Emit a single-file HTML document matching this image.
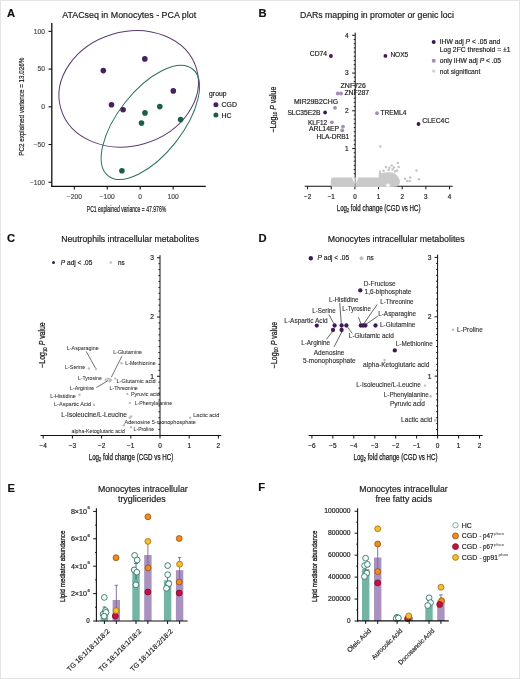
<!DOCTYPE html>
<html><head><meta charset="utf-8"><title>Figure</title>
<style>
html,body{margin:0;padding:0;background:#fff;}
body{width:520px;height:679px;overflow:hidden;}
svg{display:block;font-family:"Liberation Sans",sans-serif;will-change:transform;}
</style></head><body>
<svg width="520" height="679" viewBox="0 0 520 679" fill="#222">
<rect x="0" y="0" width="520" height="679" fill="#fff"/>
<text x="6.9" y="17.4" font-size="11.2" fill="#111" font-weight="bold" stroke="#111" stroke-width="0.18">A</text>
<text x="62.2" y="17.7" font-size="8.9" fill="#1a1a1a" textLength="134" lengthAdjust="spacingAndGlyphs" stroke="#1a1a1a" stroke-width="0.18">ATACseq in Monocytes - PCA plot</text>
<ellipse cx="128.7" cy="88.8" rx="70.7" ry="57.0" transform="rotate(-16.5 128.7 88.8)" fill="none" stroke="#5b3a70" stroke-width="1.0"/>
<ellipse cx="150.35" cy="122.4" rx="68.06" ry="32.15" transform="rotate(-51.7 150.35 122.4)" fill="none" stroke="#2d6f61" stroke-width="1.0"/>
<circle cx="103.3" cy="70.6" r="2.8" fill="#46215e"/>
<circle cx="144.8" cy="58.9" r="2.8" fill="#46215e"/>
<circle cx="111.5" cy="104.8" r="2.8" fill="#46215e"/>
<circle cx="123.1" cy="109.7" r="2.8" fill="#46215e"/>
<circle cx="173.3" cy="90.9" r="2.8" fill="#46215e"/>
<circle cx="159.8" cy="106.6" r="2.8" fill="#1b5e4a"/>
<circle cx="145" cy="112.9" r="2.8" fill="#1b5e4a"/>
<circle cx="141.5" cy="123.1" r="2.8" fill="#1b5e4a"/>
<circle cx="180.6" cy="119.6" r="2.8" fill="#1b5e4a"/>
<circle cx="121.9" cy="170.8" r="2.8" fill="#1b5e4a"/>
<line x1="51.8" y1="22.9" x2="51.8" y2="186.9" stroke="#111" stroke-width="1.3"/>
<line x1="51.2" y1="186.3" x2="205.7" y2="186.3" stroke="#111" stroke-width="1.3"/>
<line x1="48.5" y1="31.35" x2="51.9" y2="31.35" stroke="#111" stroke-width="1.1"/>
<text x="45" y="33.65" font-size="6.7" fill="#4d4d4d" text-anchor="end" stroke="#4d4d4d" stroke-width="0.18">100</text>
<line x1="48.5" y1="69.08" x2="51.9" y2="69.08" stroke="#111" stroke-width="1.1"/>
<text x="45" y="71.38" font-size="6.7" fill="#4d4d4d" text-anchor="end" stroke="#4d4d4d" stroke-width="0.18">50</text>
<line x1="48.5" y1="106.8" x2="51.9" y2="106.8" stroke="#111" stroke-width="1.1"/>
<text x="45" y="109.1" font-size="6.7" fill="#4d4d4d" text-anchor="end" stroke="#4d4d4d" stroke-width="0.18">0</text>
<line x1="48.5" y1="144.52" x2="51.9" y2="144.52" stroke="#111" stroke-width="1.1"/>
<text x="45" y="146.82" font-size="6.7" fill="#4d4d4d" text-anchor="end" stroke="#4d4d4d" stroke-width="0.18">−50</text>
<line x1="48.5" y1="182.25" x2="51.9" y2="182.25" stroke="#111" stroke-width="1.1"/>
<text x="45" y="184.55" font-size="6.7" fill="#4d4d4d" text-anchor="end" stroke="#4d4d4d" stroke-width="0.18">−100</text>
<line x1="74.34" y1="186.3" x2="74.34" y2="189.6" stroke="#111" stroke-width="1.1"/>
<text x="74.34" y="199.2" font-size="6.7" fill="#4d4d4d" text-anchor="middle" stroke="#4d4d4d" stroke-width="0.18">−200</text>
<line x1="107.27" y1="186.3" x2="107.27" y2="189.6" stroke="#111" stroke-width="1.1"/>
<text x="107.27" y="199.2" font-size="6.7" fill="#4d4d4d" text-anchor="middle" stroke="#4d4d4d" stroke-width="0.18">−100</text>
<line x1="140.2" y1="186.3" x2="140.2" y2="189.6" stroke="#111" stroke-width="1.1"/>
<text x="140.2" y="199.2" font-size="6.7" fill="#4d4d4d" text-anchor="middle" stroke="#4d4d4d" stroke-width="0.18">0</text>
<line x1="173.13" y1="186.3" x2="173.13" y2="189.6" stroke="#111" stroke-width="1.1"/>
<text x="173.13" y="199.2" font-size="6.7" fill="#4d4d4d" text-anchor="middle" stroke="#4d4d4d" stroke-width="0.18">100</text>
<text x="126.5" y="212.1" font-size="8.3" fill="#1a1a1a" text-anchor="middle" textLength="79.5" lengthAdjust="spacingAndGlyphs" stroke="#1a1a1a" stroke-width="0.2">PC1 explained variance = 47.976%</text>
<text x="24" y="106.7" font-size="7.5" fill="#1a1a1a" text-anchor="middle" textLength="98" lengthAdjust="spacingAndGlyphs" transform="rotate(-90 24 106.7)" stroke="#1a1a1a" stroke-width="0.2">PC2 explained variance = 13.026%</text>
<text x="209.1" y="96" font-size="6.8" fill="#1a1a1a" stroke="#1a1a1a" stroke-width="0.18">group</text>
<circle cx="215.9" cy="104.8" r="2.5" fill="#46215e"/>
<text x="221.6" y="106.9" font-size="6.9" fill="#1a1a1a" stroke="#1a1a1a" stroke-width="0.18">CGD</text>
<circle cx="215.9" cy="115.1" r="2.5" fill="#1b5e4a"/>
<text x="221.6" y="117.5" font-size="6.9" fill="#1a1a1a" stroke="#1a1a1a" stroke-width="0.18">HC</text>
<text x="258.6" y="16.9" font-size="11.2" fill="#111" font-weight="bold" stroke="#111" stroke-width="0.18">B</text>
<text x="299.9" y="17.6" font-size="8.7" fill="#1a1a1a" textLength="154" lengthAdjust="spacingAndGlyphs" stroke="#1a1a1a" stroke-width="0.18">DARs mapping in promoter or genic loci</text>
<circle cx="386" cy="167.1" r="1.25" fill="#c4c4c4"/>
<circle cx="389.4" cy="167.7" r="1.25" fill="#c4c4c4"/>
<circle cx="391.7" cy="165.4" r="1.25" fill="#c4c4c4"/>
<circle cx="394" cy="167.5" r="1.25" fill="#c4c4c4"/>
<circle cx="397.8" cy="163.1" r="1.25" fill="#c4c4c4"/>
<circle cx="398.7" cy="167.1" r="1.25" fill="#c4c4c4"/>
<circle cx="397" cy="170.6" r="1.25" fill="#c4c4c4"/>
<circle cx="405" cy="178.7" r="1.25" fill="#c4c4c4"/>
<circle cx="410.2" cy="177.5" r="1.25" fill="#c4c4c4"/>
<circle cx="407.3" cy="181" r="1.25" fill="#c4c4c4"/>
<circle cx="409.6" cy="181" r="1.25" fill="#c4c4c4"/>
<circle cx="416.5" cy="170.6" r="1.25" fill="#c4c4c4"/>
<circle cx="418.8" cy="179.2" r="1.25" fill="#c4c4c4"/>
<circle cx="380.3" cy="146.5" r="1.25" fill="#c4c4c4"/>
<circle cx="383.5" cy="170.8" r="1.25" fill="#c4c4c4"/>
<circle cx="392.5" cy="169.4" r="1.25" fill="#c4c4c4"/>
<circle cx="395" cy="171.5" r="1.25" fill="#c4c4c4"/>
<circle cx="388.5" cy="170" r="1.25" fill="#c4c4c4"/>
<line x1="355.2" y1="32.6" x2="355.2" y2="186.8" stroke="#111" stroke-width="1"/>
<line x1="304.7" y1="186.3" x2="452.7" y2="186.3" stroke="#111" stroke-width="1.1"/>
<line x1="352.2" y1="148.55" x2="355.2" y2="148.55" stroke="#111" stroke-width="1"/>
<text x="348.7" y="150.85" font-size="6.5" text-anchor="end" stroke="#222" stroke-width="0.18">1</text>
<line x1="352.2" y1="110.8" x2="355.2" y2="110.8" stroke="#111" stroke-width="1"/>
<text x="348.7" y="113.1" font-size="6.5" text-anchor="end" stroke="#222" stroke-width="0.18">2</text>
<line x1="352.2" y1="73.05" x2="355.2" y2="73.05" stroke="#111" stroke-width="1"/>
<text x="348.7" y="75.35" font-size="6.5" text-anchor="end" stroke="#222" stroke-width="0.18">3</text>
<line x1="352.2" y1="35.3" x2="355.2" y2="35.3" stroke="#111" stroke-width="1"/>
<text x="348.7" y="37.6" font-size="6.5" text-anchor="end" stroke="#222" stroke-width="0.18">4</text>
<line x1="353.7" y1="182.11" x2="355.2" y2="182.11" stroke="#111" stroke-width="0.9"/>
<line x1="353.7" y1="177.91" x2="355.2" y2="177.91" stroke="#111" stroke-width="0.9"/>
<line x1="353.7" y1="173.72" x2="355.2" y2="173.72" stroke="#111" stroke-width="0.9"/>
<line x1="353.7" y1="169.52" x2="355.2" y2="169.52" stroke="#111" stroke-width="0.9"/>
<line x1="353.7" y1="165.33" x2="355.2" y2="165.33" stroke="#111" stroke-width="0.9"/>
<line x1="353.7" y1="161.13" x2="355.2" y2="161.13" stroke="#111" stroke-width="0.9"/>
<line x1="353.7" y1="156.94" x2="355.2" y2="156.94" stroke="#111" stroke-width="0.9"/>
<line x1="353.7" y1="152.74" x2="355.2" y2="152.74" stroke="#111" stroke-width="0.9"/>
<line x1="353.7" y1="144.36" x2="355.2" y2="144.36" stroke="#111" stroke-width="0.9"/>
<line x1="353.7" y1="140.16" x2="355.2" y2="140.16" stroke="#111" stroke-width="0.9"/>
<line x1="353.7" y1="135.97" x2="355.2" y2="135.97" stroke="#111" stroke-width="0.9"/>
<line x1="353.7" y1="131.77" x2="355.2" y2="131.77" stroke="#111" stroke-width="0.9"/>
<line x1="353.7" y1="127.58" x2="355.2" y2="127.58" stroke="#111" stroke-width="0.9"/>
<line x1="353.7" y1="123.38" x2="355.2" y2="123.38" stroke="#111" stroke-width="0.9"/>
<line x1="353.7" y1="119.19" x2="355.2" y2="119.19" stroke="#111" stroke-width="0.9"/>
<line x1="353.7" y1="114.99" x2="355.2" y2="114.99" stroke="#111" stroke-width="0.9"/>
<line x1="353.7" y1="106.61" x2="355.2" y2="106.61" stroke="#111" stroke-width="0.9"/>
<line x1="353.7" y1="102.41" x2="355.2" y2="102.41" stroke="#111" stroke-width="0.9"/>
<line x1="353.7" y1="98.22" x2="355.2" y2="98.22" stroke="#111" stroke-width="0.9"/>
<line x1="353.7" y1="94.02" x2="355.2" y2="94.02" stroke="#111" stroke-width="0.9"/>
<line x1="353.7" y1="89.83" x2="355.2" y2="89.83" stroke="#111" stroke-width="0.9"/>
<line x1="353.7" y1="85.63" x2="355.2" y2="85.63" stroke="#111" stroke-width="0.9"/>
<line x1="353.7" y1="81.44" x2="355.2" y2="81.44" stroke="#111" stroke-width="0.9"/>
<line x1="353.7" y1="77.24" x2="355.2" y2="77.24" stroke="#111" stroke-width="0.9"/>
<line x1="353.7" y1="68.86" x2="355.2" y2="68.86" stroke="#111" stroke-width="0.9"/>
<line x1="353.7" y1="64.66" x2="355.2" y2="64.66" stroke="#111" stroke-width="0.9"/>
<line x1="353.7" y1="60.47" x2="355.2" y2="60.47" stroke="#111" stroke-width="0.9"/>
<line x1="353.7" y1="56.27" x2="355.2" y2="56.27" stroke="#111" stroke-width="0.9"/>
<line x1="353.7" y1="52.08" x2="355.2" y2="52.08" stroke="#111" stroke-width="0.9"/>
<line x1="353.7" y1="47.88" x2="355.2" y2="47.88" stroke="#111" stroke-width="0.9"/>
<line x1="353.7" y1="43.69" x2="355.2" y2="43.69" stroke="#111" stroke-width="0.9"/>
<line x1="353.7" y1="39.49" x2="355.2" y2="39.49" stroke="#111" stroke-width="0.9"/>
<line x1="307.6" y1="186.3" x2="307.6" y2="189.3" stroke="#111" stroke-width="1"/>
<text x="307.6" y="199" font-size="6.3" text-anchor="middle" stroke="#222" stroke-width="0.18">−2</text>
<line x1="331.25" y1="186.3" x2="331.25" y2="189.3" stroke="#111" stroke-width="1"/>
<text x="331.25" y="199" font-size="6.3" text-anchor="middle" stroke="#222" stroke-width="0.18">−1</text>
<line x1="354.9" y1="186.3" x2="354.9" y2="189.3" stroke="#111" stroke-width="1"/>
<text x="354.9" y="199" font-size="6.3" text-anchor="middle" stroke="#222" stroke-width="0.18">0</text>
<line x1="378.55" y1="186.3" x2="378.55" y2="189.3" stroke="#111" stroke-width="1"/>
<text x="378.55" y="199" font-size="6.3" text-anchor="middle" stroke="#222" stroke-width="0.18">1</text>
<line x1="402.2" y1="186.3" x2="402.2" y2="189.3" stroke="#111" stroke-width="1"/>
<text x="402.2" y="199" font-size="6.3" text-anchor="middle" stroke="#222" stroke-width="0.18">2</text>
<line x1="425.85" y1="186.3" x2="425.85" y2="189.3" stroke="#111" stroke-width="1"/>
<text x="425.85" y="199" font-size="6.3" text-anchor="middle" stroke="#222" stroke-width="0.18">3</text>
<line x1="449.5" y1="186.3" x2="449.5" y2="189.3" stroke="#111" stroke-width="1"/>
<text x="449.5" y="199" font-size="6.3" text-anchor="middle" stroke="#222" stroke-width="0.18">4</text>
<path d="M330.8,180.5 Q330.8,177.6 333.6,177.6 L378.6,177.6 L379,170.6 L380.9,170.6 L381.3,173.3 L385,172.6 L390,172.3 L394,173.1 L396.6,175 L398.6,177.6 L400,180.6 L399.6,184 L397.4,186.4 L393,187.1 L333.6,187.1 Q330.8,187.1 330.8,184.4 Z" fill="#c9c9c9"/>
<path d="M351.8,177.4 L355.2,185.2 L358.6,177.4 Z" fill="#fff" opacity="0.85"/>
<line x1="355.2" y1="177.4" x2="355.2" y2="187" stroke="#777" stroke-width="0.8"/>
<circle cx="388" cy="185.2" r="1.8" fill="#ffffff"/>
<text x="378.6" y="210.8" font-size="8.3" fill="#1a1a1a" text-anchor="middle" textLength="83.7" lengthAdjust="spacingAndGlyphs" stroke="#1a1a1a" stroke-width="0.25"><tspan>Log</tspan><tspan font-size="5.2" dy="1.6">2</tspan><tspan dy="-1.6"> fold change (CGD vs HC)</tspan></text>
<text x="275.8" y="109.5" font-size="8.2" fill="#1a1a1a" text-anchor="middle" textLength="45.7" lengthAdjust="spacingAndGlyphs" transform="rotate(-90 275.8 109.5)" stroke="#1a1a1a" stroke-width="0.25">−Log<tspan font-size="5.2" dy="1.6">10</tspan><tspan dy="-1.6" font-style="italic"> P</tspan> value</text>
<circle cx="330.9" cy="56" r="1.9" fill="#3a1a4e"/>
<circle cx="385.4" cy="55.9" r="1.9" fill="#3a1a4e"/>
<circle cx="325.1" cy="112.5" r="1.9" fill="#3a1a4e"/>
<circle cx="418.5" cy="124" r="1.9" fill="#3a1a4e"/>
<circle cx="337.7" cy="93.5" r="1.9" fill="#a58bb9"/>
<circle cx="341" cy="93.5" r="1.9" fill="#a58bb9"/>
<circle cx="335" cy="107.8" r="1.9" fill="#a58bb9"/>
<circle cx="331.8" cy="122.3" r="1.9" fill="#a58bb9"/>
<circle cx="343" cy="126.6" r="1.9" fill="#a58bb9"/>
<circle cx="342.2" cy="130.4" r="1.9" fill="#a58bb9"/>
<circle cx="377" cy="113.2" r="1.9" fill="#a58bb9"/>
<text x="309.8" y="56.3" font-size="6.7" textLength="17.3" lengthAdjust="spacingAndGlyphs" stroke="#222" stroke-width="0.18">CD74</text>
<text x="390.4" y="56.8" font-size="6.7" textLength="17.8" lengthAdjust="spacingAndGlyphs" stroke="#222" stroke-width="0.18">NOX5</text>
<text x="340.6" y="87.7" font-size="6.7" textLength="25.2" lengthAdjust="spacingAndGlyphs" stroke="#222" stroke-width="0.18">ZNF726</text>
<text x="344.4" y="95.2" font-size="6.7" textLength="24.8" lengthAdjust="spacingAndGlyphs" stroke="#222" stroke-width="0.18">ZNF287</text>
<text x="294.1" y="104.1" font-size="6.7" textLength="44" lengthAdjust="spacingAndGlyphs" stroke="#222" stroke-width="0.18">MIR29B2CHG</text>
<text x="287.4" y="114.9" font-size="6.7" textLength="33" lengthAdjust="spacingAndGlyphs" stroke="#222" stroke-width="0.18">SLC35E2B</text>
<text x="308" y="124.6" font-size="6.7" textLength="19.1" lengthAdjust="spacingAndGlyphs" stroke="#222" stroke-width="0.18">KLF12</text>
<text x="308.9" y="130.9" font-size="6.7" textLength="30.3" lengthAdjust="spacingAndGlyphs" stroke="#222" stroke-width="0.18">ARL14EP</text>
<text x="316.6" y="138.7" font-size="6.7" textLength="32.7" lengthAdjust="spacingAndGlyphs" stroke="#222" stroke-width="0.18">HLA-DRB1</text>
<text x="380.5" y="115.1" font-size="6.7" textLength="25.8" lengthAdjust="spacingAndGlyphs" stroke="#222" stroke-width="0.18">TREML4</text>
<text x="422.3" y="122.6" font-size="6.7" textLength="27.1" lengthAdjust="spacingAndGlyphs" stroke="#222" stroke-width="0.18">CLEC4C</text>
<circle cx="433.7" cy="42.1" r="2" fill="#3a1a4e"/>
<text x="439.7" y="43.8" font-size="6.7" textLength="60.6" lengthAdjust="spacingAndGlyphs" stroke="#222" stroke-width="0.18">IHW adj <tspan font-style="italic">P</tspan> &lt; .05 and</text>
<text x="439.7" y="51.6" font-size="6.7" textLength="70.9" lengthAdjust="spacingAndGlyphs" stroke="#222" stroke-width="0.18">Log 2FC threshold = ±1</text>
<circle cx="433.7" cy="60.8" r="2" fill="#a58bb9"/>
<text x="439.7" y="62.5" font-size="6.7" textLength="61.4" lengthAdjust="spacingAndGlyphs" stroke="#222" stroke-width="0.18">only IHW adj <tspan font-style="italic">P</tspan> &lt; .05</text>
<circle cx="433.7" cy="71.1" r="1.6" fill="#d0d0d0"/>
<text x="439.7" y="73.5" font-size="6.7" fill="#2a2a2a" textLength="40.7" lengthAdjust="spacingAndGlyphs" stroke="#2a2a2a" stroke-width="0.18">not significant</text>
<text x="6.9" y="242.4" font-size="11.2" fill="#111" font-weight="bold" stroke="#111" stroke-width="0.18">C</text>
<text x="61.2" y="242.4" font-size="8.7" fill="#1a1a1a" textLength="137.8" lengthAdjust="spacingAndGlyphs" stroke="#1a1a1a" stroke-width="0.18">Neutrophils intracellular metabolites</text>
<circle cx="53.5" cy="262.5" r="1.5" fill="#3a1a4e"/>
<text x="60.8" y="265" font-size="6.5" textLength="31.5" lengthAdjust="spacingAndGlyphs" stroke="#222" stroke-width="0.18"><tspan font-style="italic">P</tspan> adj &lt; .05</text>
<circle cx="110.8" cy="262.5" r="1.3" fill="#c0c0c0"/>
<text x="117.9" y="265" font-size="6.5" textLength="6.7" lengthAdjust="spacingAndGlyphs" stroke="#222" stroke-width="0.18">ns</text>
<text x="66.8" y="349.7" font-size="5.4" fill="#333" textLength="31.9" lengthAdjust="spacingAndGlyphs" stroke="#333" stroke-width="0.06">L-Asparagine</text>
<text x="65.1" y="368.5" font-size="5.4" fill="#333" textLength="20.2" lengthAdjust="spacingAndGlyphs" stroke="#333" stroke-width="0.06">L-Serine</text>
<text x="77.9" y="379.7" font-size="5.4" fill="#333" textLength="23.9" lengthAdjust="spacingAndGlyphs" stroke="#333" stroke-width="0.06">L-Tyrosine</text>
<text x="113.2" y="354.4" font-size="5.4" fill="#333" textLength="28.9" lengthAdjust="spacingAndGlyphs" stroke="#333" stroke-width="0.06">L-Glutamine</text>
<text x="125.3" y="365.2" font-size="5.4" fill="#333" textLength="30.3" lengthAdjust="spacingAndGlyphs" stroke="#333" stroke-width="0.06">L-Methionine</text>
<text x="116.5" y="382.7" font-size="5.4" fill="#333" textLength="39.1" lengthAdjust="spacingAndGlyphs" stroke="#333" stroke-width="0.06">L-Glutamic acid</text>
<text x="109.5" y="389.8" font-size="5.4" fill="#333" textLength="28.3" lengthAdjust="spacingAndGlyphs" stroke="#333" stroke-width="0.06">L-Threonine</text>
<text x="70.1" y="390.1" font-size="5.4" fill="#333" textLength="24.2" lengthAdjust="spacingAndGlyphs" stroke="#333" stroke-width="0.06">L-Arginine</text>
<text x="50.2" y="397.5" font-size="5.4" fill="#333" textLength="25.6" lengthAdjust="spacingAndGlyphs" stroke="#333" stroke-width="0.06">L-Histidine</text>
<text x="54" y="406.2" font-size="5.4" fill="#333" textLength="37.2" lengthAdjust="spacingAndGlyphs" stroke="#333" stroke-width="0.06">L-Aspartic Acid</text>
<text x="130.9" y="396" font-size="5.4" fill="#333" textLength="28.9" lengthAdjust="spacingAndGlyphs" stroke="#333" stroke-width="0.06">Pyruvic acid</text>
<text x="134.7" y="405.1" font-size="5.4" fill="#333" textLength="37.4" lengthAdjust="spacingAndGlyphs" stroke="#333" stroke-width="0.06">L-Phenylalanine</text>
<text x="193.3" y="416.7" font-size="5.4" fill="#333" textLength="26" lengthAdjust="spacingAndGlyphs" stroke="#333" stroke-width="0.06">Lactic acid</text>
<text x="124.5" y="424.1" font-size="5.4" fill="#333" textLength="71.3" lengthAdjust="spacingAndGlyphs" stroke="#333" stroke-width="0.06">Adenosine 5-monophosphate</text>
<text x="71.5" y="432.8" font-size="5.4" fill="#333" textLength="53.3" lengthAdjust="spacingAndGlyphs" stroke="#333" stroke-width="0.06">alpha-Ketoglutaric acid</text>
<text x="133.6" y="430.5" font-size="5.4" fill="#333" textLength="20.5" lengthAdjust="spacingAndGlyphs" stroke="#333" stroke-width="0.06">L-Proline</text>
<text x="61.3" y="416.9" font-size="6.6" fill="#2a2a2a" textLength="65.6" lengthAdjust="spacingAndGlyphs" stroke="#2a2a2a" stroke-width="0.1">L-Isoleucine/L-Leucine</text>
<line x1="86.2" y1="351.4" x2="95.6" y2="368.3" stroke="#333" stroke-width="0.7"/>
<line x1="121.9" y1="356.2" x2="111.3" y2="377.3" stroke="#333" stroke-width="0.7"/>
<line x1="96.3" y1="387.6" x2="108" y2="380.6" stroke="#333" stroke-width="0.7"/>
<circle cx="96" cy="368.9" r="1.2" fill="#bdbdbd"/>
<circle cx="88.9" cy="368.5" r="1.2" fill="#bdbdbd"/>
<circle cx="105.8" cy="379.7" r="1.2" fill="#bdbdbd"/>
<circle cx="107.8" cy="378.6" r="1.2" fill="#bdbdbd"/>
<circle cx="109.8" cy="379.3" r="1.2" fill="#bdbdbd"/>
<circle cx="110.9" cy="380.3" r="1.2" fill="#bdbdbd"/>
<circle cx="109.5" cy="381.3" r="1.2" fill="#bdbdbd"/>
<circle cx="121.6" cy="363.2" r="1.2" fill="#bdbdbd"/>
<circle cx="115.2" cy="378.6" r="1.2" fill="#bdbdbd"/>
<circle cx="127.3" cy="393.9" r="1.2" fill="#bdbdbd"/>
<circle cx="129.8" cy="403" r="1.2" fill="#bdbdbd"/>
<circle cx="79.5" cy="394.8" r="1.2" fill="#bdbdbd"/>
<circle cx="93.9" cy="404.9" r="1.2" fill="#bdbdbd"/>
<circle cx="131.2" cy="416.5" r="1.2" fill="#bdbdbd"/>
<circle cx="190.1" cy="417.8" r="1.2" fill="#bdbdbd"/>
<circle cx="123.9" cy="425.2" r="1.2" fill="#bdbdbd"/>
<circle cx="130.9" cy="427.3" r="1.2" fill="#bdbdbd"/>
<circle cx="129.8" cy="417.8" r="1.2" fill="#bdbdbd"/>
<line x1="160" y1="255.2" x2="160" y2="436" stroke="#111" stroke-width="1"/>
<line x1="40.5" y1="435.5" x2="221.3" y2="435.5" stroke="#111" stroke-width="1.1"/>
<line x1="157" y1="376.25" x2="160" y2="376.25" stroke="#111" stroke-width="1"/>
<text x="154.1" y="378.65" font-size="6.7" text-anchor="end" stroke="#222" stroke-width="0.18">1</text>
<line x1="157" y1="317" x2="160" y2="317" stroke="#111" stroke-width="1"/>
<text x="154.1" y="319.4" font-size="6.7" text-anchor="end" stroke="#222" stroke-width="0.18">2</text>
<line x1="157" y1="257.75" x2="160" y2="257.75" stroke="#111" stroke-width="1"/>
<text x="154.1" y="260.15" font-size="6.7" text-anchor="end" stroke="#222" stroke-width="0.18">3</text>
<line x1="158.4" y1="429.57" x2="160" y2="429.57" stroke="#111" stroke-width="0.9"/>
<line x1="158.4" y1="423.65" x2="160" y2="423.65" stroke="#111" stroke-width="0.9"/>
<line x1="158.4" y1="417.73" x2="160" y2="417.73" stroke="#111" stroke-width="0.9"/>
<line x1="158.4" y1="411.8" x2="160" y2="411.8" stroke="#111" stroke-width="0.9"/>
<line x1="158.4" y1="405.88" x2="160" y2="405.88" stroke="#111" stroke-width="0.9"/>
<line x1="158.4" y1="399.95" x2="160" y2="399.95" stroke="#111" stroke-width="0.9"/>
<line x1="158.4" y1="394.02" x2="160" y2="394.02" stroke="#111" stroke-width="0.9"/>
<line x1="158.4" y1="388.1" x2="160" y2="388.1" stroke="#111" stroke-width="0.9"/>
<line x1="158.4" y1="382.18" x2="160" y2="382.18" stroke="#111" stroke-width="0.9"/>
<line x1="158.4" y1="370.32" x2="160" y2="370.32" stroke="#111" stroke-width="0.9"/>
<line x1="158.4" y1="364.4" x2="160" y2="364.4" stroke="#111" stroke-width="0.9"/>
<line x1="158.4" y1="358.48" x2="160" y2="358.48" stroke="#111" stroke-width="0.9"/>
<line x1="158.4" y1="352.55" x2="160" y2="352.55" stroke="#111" stroke-width="0.9"/>
<line x1="158.4" y1="346.62" x2="160" y2="346.62" stroke="#111" stroke-width="0.9"/>
<line x1="158.4" y1="340.7" x2="160" y2="340.7" stroke="#111" stroke-width="0.9"/>
<line x1="158.4" y1="334.77" x2="160" y2="334.77" stroke="#111" stroke-width="0.9"/>
<line x1="158.4" y1="328.85" x2="160" y2="328.85" stroke="#111" stroke-width="0.9"/>
<line x1="158.4" y1="322.93" x2="160" y2="322.93" stroke="#111" stroke-width="0.9"/>
<line x1="158.4" y1="311.07" x2="160" y2="311.07" stroke="#111" stroke-width="0.9"/>
<line x1="158.4" y1="305.15" x2="160" y2="305.15" stroke="#111" stroke-width="0.9"/>
<line x1="158.4" y1="299.23" x2="160" y2="299.23" stroke="#111" stroke-width="0.9"/>
<line x1="158.4" y1="293.3" x2="160" y2="293.3" stroke="#111" stroke-width="0.9"/>
<line x1="158.4" y1="287.38" x2="160" y2="287.38" stroke="#111" stroke-width="0.9"/>
<line x1="158.4" y1="281.45" x2="160" y2="281.45" stroke="#111" stroke-width="0.9"/>
<line x1="158.4" y1="275.52" x2="160" y2="275.52" stroke="#111" stroke-width="0.9"/>
<line x1="158.4" y1="269.6" x2="160" y2="269.6" stroke="#111" stroke-width="0.9"/>
<line x1="158.4" y1="263.68" x2="160" y2="263.68" stroke="#111" stroke-width="0.9"/>
<line x1="43.2" y1="435.5" x2="43.2" y2="438.5" stroke="#111" stroke-width="1"/>
<text x="43.2" y="448.2" font-size="6.5" text-anchor="middle" stroke="#222" stroke-width="0.18">−4</text>
<line x1="72.4" y1="435.5" x2="72.4" y2="438.5" stroke="#111" stroke-width="1"/>
<text x="72.4" y="448.2" font-size="6.5" text-anchor="middle" stroke="#222" stroke-width="0.18">−3</text>
<line x1="101.6" y1="435.5" x2="101.6" y2="438.5" stroke="#111" stroke-width="1"/>
<text x="101.6" y="448.2" font-size="6.5" text-anchor="middle" stroke="#222" stroke-width="0.18">−2</text>
<line x1="130.8" y1="435.5" x2="130.8" y2="438.5" stroke="#111" stroke-width="1"/>
<text x="130.8" y="448.2" font-size="6.5" text-anchor="middle" stroke="#222" stroke-width="0.18">−1</text>
<line x1="160" y1="435.5" x2="160" y2="438.5" stroke="#111" stroke-width="1"/>
<text x="160" y="448.2" font-size="6.5" text-anchor="middle" stroke="#222" stroke-width="0.18">0</text>
<line x1="189.2" y1="435.5" x2="189.2" y2="438.5" stroke="#111" stroke-width="1"/>
<text x="189.2" y="448.2" font-size="6.5" text-anchor="middle" stroke="#222" stroke-width="0.18">1</text>
<line x1="218.4" y1="435.5" x2="218.4" y2="438.5" stroke="#111" stroke-width="1"/>
<text x="218.4" y="448.2" font-size="6.5" text-anchor="middle" stroke="#222" stroke-width="0.18">2</text>
<text x="131" y="459.8" font-size="8.3" fill="#1a1a1a" text-anchor="middle" textLength="84.6" lengthAdjust="spacingAndGlyphs" stroke="#1a1a1a" stroke-width="0.25"><tspan>Log</tspan><tspan font-size="5.2" dy="1.6">2</tspan><tspan dy="-1.6"> fold change (CGD vs HC)</tspan></text>
<text x="45" y="345" font-size="8.2" fill="#1a1a1a" text-anchor="middle" textLength="45.3" lengthAdjust="spacingAndGlyphs" transform="rotate(-90 45 345)" stroke="#1a1a1a" stroke-width="0.25">−Log<tspan font-size="5.2" dy="1.6">10</tspan><tspan dy="-1.6" font-style="italic"> P</tspan> value</text>
<text x="258.6" y="242.4" font-size="11.2" fill="#111" font-weight="bold" stroke="#111" stroke-width="0.18">D</text>
<text x="327.7" y="242.4" font-size="8.7" fill="#1a1a1a" textLength="136.9" lengthAdjust="spacingAndGlyphs" stroke="#1a1a1a" stroke-width="0.18">Monocytes intracellular metabolites</text>
<circle cx="310.8" cy="258.2" r="2.2" fill="#3d1c55"/>
<text x="317.5" y="260.3" font-size="6.5" textLength="31.7" lengthAdjust="spacingAndGlyphs" stroke="#222" stroke-width="0.18"><tspan font-style="italic">P</tspan> adj &lt; .05</text>
<circle cx="361.5" cy="258.2" r="1.9" fill="#bdbdbd"/>
<text x="367" y="260.3" font-size="6.5" textLength="6.8" lengthAdjust="spacingAndGlyphs" stroke="#222" stroke-width="0.18">ns</text>
<text x="363.8" y="286.1" font-size="6.6" fill="#2e2e2e" textLength="31.9" lengthAdjust="spacingAndGlyphs" stroke="#2e2e2e" stroke-width="0.12">D-Fructose</text>
<text x="364.6" y="294.2" font-size="6.6" fill="#2e2e2e" textLength="46.9" lengthAdjust="spacingAndGlyphs" stroke="#2e2e2e" stroke-width="0.12">1,6-biphosphate</text>
<text x="328.9" y="301.5" font-size="6.6" fill="#2e2e2e" textLength="29.6" lengthAdjust="spacingAndGlyphs" stroke="#2e2e2e" stroke-width="0.12">L-Histidine</text>
<text x="380.3" y="304.2" font-size="6.6" fill="#2e2e2e" textLength="33.2" lengthAdjust="spacingAndGlyphs" stroke="#2e2e2e" stroke-width="0.12">L-Threonine</text>
<text x="342.3" y="311.2" font-size="6.6" fill="#2e2e2e" textLength="28.5" lengthAdjust="spacingAndGlyphs" stroke="#2e2e2e" stroke-width="0.12">L-Tyrosine</text>
<text x="312.3" y="313.1" font-size="6.6" fill="#2e2e2e" textLength="23.4" lengthAdjust="spacingAndGlyphs" stroke="#2e2e2e" stroke-width="0.12">L-Serine</text>
<text x="378.2" y="316.2" font-size="6.6" fill="#2e2e2e" textLength="38" lengthAdjust="spacingAndGlyphs" stroke="#2e2e2e" stroke-width="0.12">L-Asparagine</text>
<text x="284.3" y="322.6" font-size="6.6" fill="#2e2e2e" textLength="43.4" lengthAdjust="spacingAndGlyphs" stroke="#2e2e2e" stroke-width="0.12">L-Aspartic Acid</text>
<text x="380" y="326.8" font-size="6.6" fill="#2e2e2e" textLength="35.4" lengthAdjust="spacingAndGlyphs" stroke="#2e2e2e" stroke-width="0.12">L-Glutamine</text>
<text x="348.8" y="338.3" font-size="6.6" fill="#2e2e2e" textLength="45" lengthAdjust="spacingAndGlyphs" stroke="#2e2e2e" stroke-width="0.12">L-Glutamic acid</text>
<text x="301.2" y="345.1" font-size="6.6" fill="#2e2e2e" textLength="28.9" lengthAdjust="spacingAndGlyphs" stroke="#2e2e2e" stroke-width="0.12">L-Arginine</text>
<text x="395.8" y="346" font-size="6.6" fill="#2e2e2e" textLength="36.9" lengthAdjust="spacingAndGlyphs" stroke="#2e2e2e" stroke-width="0.12">L-Methionine</text>
<text x="313.8" y="354.8" font-size="6.6" fill="#2e2e2e" textLength="30.6" lengthAdjust="spacingAndGlyphs" stroke="#2e2e2e" stroke-width="0.12">Adenosine</text>
<text x="303" y="362.7" font-size="6.6" fill="#2e2e2e" textLength="52.7" lengthAdjust="spacingAndGlyphs" stroke="#2e2e2e" stroke-width="0.12">5-monophosphate</text>
<text x="363.1" y="367.1" font-size="6.6" fill="#2e2e2e" textLength="66.3" lengthAdjust="spacingAndGlyphs" stroke="#2e2e2e" stroke-width="0.12">alpha-Ketoglutaric acid</text>
<text x="356.3" y="387.2" font-size="6.6" fill="#2e2e2e" textLength="64.5" lengthAdjust="spacingAndGlyphs" stroke="#2e2e2e" stroke-width="0.12">L-Isoleucine/L-Leucine</text>
<text x="383.8" y="396.8" font-size="6.6" fill="#2e2e2e" textLength="45" lengthAdjust="spacingAndGlyphs" stroke="#2e2e2e" stroke-width="0.12">L-Phenylalanine</text>
<text x="389.9" y="406.3" font-size="6.6" fill="#2e2e2e" textLength="35.1" lengthAdjust="spacingAndGlyphs" stroke="#2e2e2e" stroke-width="0.12">Pyruvic acid</text>
<text x="401.1" y="422.2" font-size="6.6" fill="#2e2e2e" textLength="31.2" lengthAdjust="spacingAndGlyphs" stroke="#2e2e2e" stroke-width="0.12">Lactic acid</text>
<text x="457.1" y="332.1" font-size="6.6" fill="#2e2e2e" textLength="25.6" lengthAdjust="spacingAndGlyphs" stroke="#2e2e2e" stroke-width="0.12">L-Proline</text>
<line x1="328.9" y1="314.6" x2="333.8" y2="323.6" stroke="#222" stroke-width="0.7"/>
<line x1="339.7" y1="303" x2="341.3" y2="323.6" stroke="#222" stroke-width="0.7"/>
<line x1="377.2" y1="304.5" x2="363.8" y2="323.8" stroke="#222" stroke-width="0.7"/>
<line x1="358.5" y1="317.3" x2="360.8" y2="323.5" stroke="#222" stroke-width="0.7"/>
<line x1="377.7" y1="316.2" x2="366.2" y2="324.2" stroke="#222" stroke-width="0.7"/>
<line x1="347.7" y1="327.3" x2="352.3" y2="333.5" stroke="#222" stroke-width="0.7"/>
<line x1="332.4" y1="331.8" x2="326.3" y2="339.4" stroke="#222" stroke-width="0.7"/>
<line x1="341.9" y1="331.8" x2="334.1" y2="346.8" stroke="#222" stroke-width="0.7"/>
<circle cx="360.3" cy="290.4" r="2.15" fill="#3d1c55"/>
<circle cx="316.8" cy="325.6" r="2.15" fill="#3d1c55"/>
<circle cx="334.6" cy="325.5" r="2.15" fill="#3d1c55"/>
<circle cx="341.6" cy="325.5" r="2.15" fill="#3d1c55"/>
<circle cx="346.4" cy="325.5" r="2.15" fill="#3d1c55"/>
<circle cx="333" cy="330" r="2.15" fill="#3d1c55"/>
<circle cx="341.6" cy="330" r="2.15" fill="#3d1c55"/>
<circle cx="360.8" cy="325.5" r="2.15" fill="#3d1c55"/>
<circle cx="363.1" cy="325.5" r="2.15" fill="#3d1c55"/>
<circle cx="365.4" cy="325.5" r="2.15" fill="#3d1c55"/>
<circle cx="375.5" cy="325.5" r="2.15" fill="#3d1c55"/>
<circle cx="394.8" cy="350.4" r="2.15" fill="#3d1c55"/>
<circle cx="452.9" cy="329.8" r="1.2" fill="#bdbdbd"/>
<circle cx="384.6" cy="360" r="1.2" fill="#bdbdbd"/>
<circle cx="425" cy="385.6" r="1.2" fill="#bdbdbd"/>
<circle cx="430.6" cy="396.2" r="1.2" fill="#bdbdbd"/>
<circle cx="420.7" cy="399.8" r="1.2" fill="#bdbdbd"/>
<circle cx="435.4" cy="420.5" r="1.2" fill="#bdbdbd"/>
<line x1="437.6" y1="254.6" x2="437.6" y2="436" stroke="#111" stroke-width="1"/>
<line x1="308.6" y1="435.5" x2="482.6" y2="435.5" stroke="#111" stroke-width="1.1"/>
<line x1="434.6" y1="376.15" x2="437.6" y2="376.15" stroke="#111" stroke-width="1"/>
<text x="431.5" y="378.55" font-size="6.7" text-anchor="end" stroke="#222" stroke-width="0.18">1</text>
<line x1="434.6" y1="316.8" x2="437.6" y2="316.8" stroke="#111" stroke-width="1"/>
<text x="431.5" y="319.2" font-size="6.7" text-anchor="end" stroke="#222" stroke-width="0.18">2</text>
<line x1="434.6" y1="257.45" x2="437.6" y2="257.45" stroke="#111" stroke-width="1"/>
<text x="431.5" y="259.85" font-size="6.7" text-anchor="end" stroke="#222" stroke-width="0.18">3</text>
<line x1="436" y1="429.56" x2="437.6" y2="429.56" stroke="#111" stroke-width="0.9"/>
<line x1="436" y1="423.63" x2="437.6" y2="423.63" stroke="#111" stroke-width="0.9"/>
<line x1="436" y1="417.69" x2="437.6" y2="417.69" stroke="#111" stroke-width="0.9"/>
<line x1="436" y1="411.76" x2="437.6" y2="411.76" stroke="#111" stroke-width="0.9"/>
<line x1="436" y1="405.82" x2="437.6" y2="405.82" stroke="#111" stroke-width="0.9"/>
<line x1="436" y1="399.89" x2="437.6" y2="399.89" stroke="#111" stroke-width="0.9"/>
<line x1="436" y1="393.95" x2="437.6" y2="393.95" stroke="#111" stroke-width="0.9"/>
<line x1="436" y1="388.02" x2="437.6" y2="388.02" stroke="#111" stroke-width="0.9"/>
<line x1="436" y1="382.08" x2="437.6" y2="382.08" stroke="#111" stroke-width="0.9"/>
<line x1="436" y1="370.21" x2="437.6" y2="370.21" stroke="#111" stroke-width="0.9"/>
<line x1="436" y1="364.28" x2="437.6" y2="364.28" stroke="#111" stroke-width="0.9"/>
<line x1="436" y1="358.35" x2="437.6" y2="358.35" stroke="#111" stroke-width="0.9"/>
<line x1="436" y1="352.41" x2="437.6" y2="352.41" stroke="#111" stroke-width="0.9"/>
<line x1="436" y1="346.48" x2="437.6" y2="346.48" stroke="#111" stroke-width="0.9"/>
<line x1="436" y1="340.54" x2="437.6" y2="340.54" stroke="#111" stroke-width="0.9"/>
<line x1="436" y1="334.61" x2="437.6" y2="334.61" stroke="#111" stroke-width="0.9"/>
<line x1="436" y1="328.67" x2="437.6" y2="328.67" stroke="#111" stroke-width="0.9"/>
<line x1="436" y1="322.74" x2="437.6" y2="322.74" stroke="#111" stroke-width="0.9"/>
<line x1="436" y1="310.87" x2="437.6" y2="310.87" stroke="#111" stroke-width="0.9"/>
<line x1="436" y1="304.93" x2="437.6" y2="304.93" stroke="#111" stroke-width="0.9"/>
<line x1="436" y1="299" x2="437.6" y2="299" stroke="#111" stroke-width="0.9"/>
<line x1="436" y1="293.06" x2="437.6" y2="293.06" stroke="#111" stroke-width="0.9"/>
<line x1="436" y1="287.12" x2="437.6" y2="287.12" stroke="#111" stroke-width="0.9"/>
<line x1="436" y1="281.19" x2="437.6" y2="281.19" stroke="#111" stroke-width="0.9"/>
<line x1="436" y1="275.25" x2="437.6" y2="275.25" stroke="#111" stroke-width="0.9"/>
<line x1="436" y1="269.32" x2="437.6" y2="269.32" stroke="#111" stroke-width="0.9"/>
<line x1="436" y1="263.38" x2="437.6" y2="263.38" stroke="#111" stroke-width="0.9"/>
<line x1="311.9" y1="435.5" x2="311.9" y2="438.5" stroke="#111" stroke-width="1"/>
<text x="311.9" y="448.2" font-size="6.5" text-anchor="middle" stroke="#222" stroke-width="0.18">−6</text>
<line x1="332.85" y1="435.5" x2="332.85" y2="438.5" stroke="#111" stroke-width="1"/>
<text x="332.85" y="448.2" font-size="6.5" text-anchor="middle" stroke="#222" stroke-width="0.18">−5</text>
<line x1="353.8" y1="435.5" x2="353.8" y2="438.5" stroke="#111" stroke-width="1"/>
<text x="353.8" y="448.2" font-size="6.5" text-anchor="middle" stroke="#222" stroke-width="0.18">−4</text>
<line x1="374.75" y1="435.5" x2="374.75" y2="438.5" stroke="#111" stroke-width="1"/>
<text x="374.75" y="448.2" font-size="6.5" text-anchor="middle" stroke="#222" stroke-width="0.18">−3</text>
<line x1="395.7" y1="435.5" x2="395.7" y2="438.5" stroke="#111" stroke-width="1"/>
<text x="395.7" y="448.2" font-size="6.5" text-anchor="middle" stroke="#222" stroke-width="0.18">−2</text>
<line x1="416.65" y1="435.5" x2="416.65" y2="438.5" stroke="#111" stroke-width="1"/>
<text x="416.65" y="448.2" font-size="6.5" text-anchor="middle" stroke="#222" stroke-width="0.18">−1</text>
<line x1="437.6" y1="435.5" x2="437.6" y2="438.5" stroke="#111" stroke-width="1"/>
<text x="437.6" y="448.2" font-size="6.5" text-anchor="middle" stroke="#222" stroke-width="0.18">0</text>
<line x1="458.55" y1="435.5" x2="458.55" y2="438.5" stroke="#111" stroke-width="1"/>
<text x="458.55" y="448.2" font-size="6.5" text-anchor="middle" stroke="#222" stroke-width="0.18">1</text>
<line x1="479.5" y1="435.5" x2="479.5" y2="438.5" stroke="#111" stroke-width="1"/>
<text x="479.5" y="448.2" font-size="6.5" text-anchor="middle" stroke="#222" stroke-width="0.18">2</text>
<text x="395.5" y="459.8" font-size="8.3" fill="#1a1a1a" text-anchor="middle" textLength="84" lengthAdjust="spacingAndGlyphs" stroke="#1a1a1a" stroke-width="0.25"><tspan>Log</tspan><tspan font-size="5.2" dy="1.6">2</tspan><tspan dy="-1.6"> fold change (CGD vs HC)</tspan></text>
<text x="276.6" y="345" font-size="8.2" fill="#1a1a1a" text-anchor="middle" textLength="46.3" lengthAdjust="spacingAndGlyphs" transform="rotate(-90 276.6 345)" stroke="#1a1a1a" stroke-width="0.25">−Log<tspan font-size="5.2" dy="1.6">10</tspan><tspan dy="-1.6" font-style="italic"> P</tspan> value</text>
<text x="7.4" y="491.5" font-size="11.2" fill="#111" font-weight="bold" stroke="#111" stroke-width="0.18">E</text>
<text x="142.85" y="491.8" font-size="8.8" fill="#1a1a1a" text-anchor="middle" textLength="89.7" lengthAdjust="spacingAndGlyphs" stroke="#1a1a1a" stroke-width="0.18">Monocytes intracellular</text>
<text x="141.8" y="501.8" font-size="8.8" fill="#1a1a1a" text-anchor="middle" textLength="47.8" lengthAdjust="spacingAndGlyphs" stroke="#1a1a1a" stroke-width="0.18">tryglicerides</text>
<rect x="100.7" y="612.51" width="7.4" height="8.49" fill="#74b4a4"/>
<line x1="104.4" y1="617.99" x2="104.4" y2="607.03" stroke="#2d6e5e" stroke-width="0.9"/>
<line x1="102.6" y1="607.03" x2="106.2" y2="607.03" stroke="#2d6e5e" stroke-width="0.9"/>
<rect x="112.6" y="600" width="7.4" height="21" fill="#a991c0"/>
<line x1="116.3" y1="614.7" x2="116.3" y2="585.3" stroke="#7c6894" stroke-width="0.9"/>
<line x1="114.5" y1="585.3" x2="118.1" y2="585.3" stroke="#7c6894" stroke-width="0.9"/>
<circle cx="104.3" cy="597.4" r="2.9" fill="#f2fbfa" stroke="#357566" stroke-width="0.9"/>
<circle cx="105.4" cy="610.6" r="2.9" fill="#f2fbfa" stroke="#357566" stroke-width="0.9"/>
<circle cx="103.2" cy="614.2" r="2.9" fill="#f2fbfa" stroke="#357566" stroke-width="0.9"/>
<circle cx="106" cy="612.4" r="2.9" fill="#f2fbfa" stroke="#357566" stroke-width="0.9"/>
<circle cx="104.1" cy="616.2" r="2.9" fill="#f2fbfa" stroke="#357566" stroke-width="0.9"/>
<circle cx="116" cy="557.7" r="2.95" fill="#f08c1e" stroke="#9a5512" stroke-width="0.85"/>
<circle cx="115.3" cy="616.1" r="2.95" fill="#c4123e" stroke="#850b2a" stroke-width="0.85"/>
<circle cx="116.1" cy="610.6" r="2.95" fill="#f4be2e" stroke="#a87410" stroke-width="0.85"/>
<rect x="132.3" y="571.5" width="7.4" height="49.5" fill="#74b4a4"/>
<line x1="136" y1="579.5" x2="136" y2="563.5" stroke="#2d6e5e" stroke-width="0.9"/>
<line x1="134.2" y1="563.5" x2="137.8" y2="563.5" stroke="#2d6e5e" stroke-width="0.9"/>
<rect x="144.2" y="555" width="7.4" height="66" fill="#a991c0"/>
<line x1="147.9" y1="568.6" x2="147.9" y2="541.4" stroke="#7c6894" stroke-width="0.9"/>
<line x1="146.1" y1="541.4" x2="149.7" y2="541.4" stroke="#7c6894" stroke-width="0.9"/>
<circle cx="134.6" cy="555.4" r="2.9" fill="#f2fbfa" stroke="#357566" stroke-width="0.9"/>
<circle cx="137.2" cy="560" r="2.9" fill="#f2fbfa" stroke="#357566" stroke-width="0.9"/>
<circle cx="134.2" cy="570" r="2.9" fill="#f2fbfa" stroke="#357566" stroke-width="0.9"/>
<circle cx="136.8" cy="572.2" r="2.9" fill="#f2fbfa" stroke="#357566" stroke-width="0.9"/>
<circle cx="135.9" cy="584.8" r="2.9" fill="#f2fbfa" stroke="#357566" stroke-width="0.9"/>
<circle cx="147.9" cy="516.8" r="2.95" fill="#f08c1e" stroke="#9a5512" stroke-width="0.85"/>
<circle cx="147.9" cy="541.4" r="2.95" fill="#f4be2e" stroke="#a87410" stroke-width="0.85"/>
<circle cx="148.1" cy="567.9" r="2.95" fill="#f08c1e" stroke="#9a5512" stroke-width="0.85"/>
<circle cx="147.9" cy="592" r="2.95" fill="#c4123e" stroke="#850b2a" stroke-width="0.85"/>
<rect x="163.9" y="580.3" width="7.4" height="40.7" fill="#74b4a4"/>
<line x1="167.6" y1="586.1" x2="167.6" y2="574.5" stroke="#2d6e5e" stroke-width="0.9"/>
<line x1="165.8" y1="574.5" x2="169.4" y2="574.5" stroke="#2d6e5e" stroke-width="0.9"/>
<rect x="175.9" y="570.2" width="7.4" height="50.8" fill="#a991c0"/>
<line x1="179.6" y1="582.9" x2="179.6" y2="557.5" stroke="#7c6894" stroke-width="0.9"/>
<line x1="177.8" y1="557.5" x2="181.4" y2="557.5" stroke="#7c6894" stroke-width="0.9"/>
<circle cx="167.7" cy="565.6" r="2.9" fill="#f2fbfa" stroke="#357566" stroke-width="0.9"/>
<circle cx="167.7" cy="574.7" r="2.9" fill="#f2fbfa" stroke="#357566" stroke-width="0.9"/>
<circle cx="168.8" cy="583.7" r="2.9" fill="#f2fbfa" stroke="#357566" stroke-width="0.9"/>
<circle cx="166.5" cy="588.3" r="2.9" fill="#f2fbfa" stroke="#357566" stroke-width="0.9"/>
<circle cx="179.2" cy="538.5" r="2.95" fill="#f08c1e" stroke="#9a5512" stroke-width="0.85"/>
<circle cx="179.6" cy="564.2" r="2.95" fill="#f4be2e" stroke="#a87410" stroke-width="0.85"/>
<circle cx="179.2" cy="582" r="2.95" fill="#f08c1e" stroke="#9a5512" stroke-width="0.85"/>
<circle cx="179.2" cy="593" r="2.95" fill="#c4123e" stroke="#850b2a" stroke-width="0.85"/>
<line x1="96.4" y1="508.3" x2="96.4" y2="621.5" stroke="#111" stroke-width="1.1"/>
<line x1="95.9" y1="621" x2="187.7" y2="621" stroke="#111" stroke-width="1.1"/>
<line x1="93.2" y1="621" x2="96.4" y2="621" stroke="#111" stroke-width="1"/>
<text x="89.8" y="623.2" font-size="6.3" text-anchor="end" stroke="#222" stroke-width="0.18">0</text>
<line x1="93.2" y1="593.6" x2="96.4" y2="593.6" stroke="#111" stroke-width="1"/>
<text x="87" y="595.9" font-size="6.3" text-anchor="end" textLength="16.1" lengthAdjust="spacingAndGlyphs" stroke="#222" stroke-width="0.18">2×10</text>
<text x="87.4" y="591.6" font-size="4.4" stroke="#222" stroke-width="0.18">6</text>
<line x1="93.2" y1="566.2" x2="96.4" y2="566.2" stroke="#111" stroke-width="1"/>
<text x="87" y="568.5" font-size="6.3" text-anchor="end" textLength="16.1" lengthAdjust="spacingAndGlyphs" stroke="#222" stroke-width="0.18">4×10</text>
<text x="87.4" y="564.2" font-size="4.4" stroke="#222" stroke-width="0.18">6</text>
<line x1="93.2" y1="538.8" x2="96.4" y2="538.8" stroke="#111" stroke-width="1"/>
<text x="87" y="541.1" font-size="6.3" text-anchor="end" textLength="16.1" lengthAdjust="spacingAndGlyphs" stroke="#222" stroke-width="0.18">6×10</text>
<text x="87.4" y="536.8" font-size="4.4" stroke="#222" stroke-width="0.18">6</text>
<line x1="93.2" y1="511.4" x2="96.4" y2="511.4" stroke="#111" stroke-width="1"/>
<text x="87" y="513.7" font-size="6.3" text-anchor="end" textLength="16.1" lengthAdjust="spacingAndGlyphs" stroke="#222" stroke-width="0.18">8×10</text>
<text x="87.4" y="509.4" font-size="4.4" stroke="#222" stroke-width="0.18">6</text>
<line x1="95" y1="607.3" x2="96.4" y2="607.3" stroke="#111" stroke-width="0.9"/>
<line x1="95" y1="579.9" x2="96.4" y2="579.9" stroke="#111" stroke-width="0.9"/>
<line x1="95" y1="552.5" x2="96.4" y2="552.5" stroke="#111" stroke-width="0.9"/>
<line x1="95" y1="525.1" x2="96.4" y2="525.1" stroke="#111" stroke-width="0.9"/>
<line x1="104.4" y1="621" x2="104.4" y2="624" stroke="#111" stroke-width="1"/>
<line x1="116.3" y1="621" x2="116.3" y2="624" stroke="#111" stroke-width="1"/>
<line x1="136" y1="621" x2="136" y2="624" stroke="#111" stroke-width="1"/>
<line x1="147.9" y1="621" x2="147.9" y2="624" stroke="#111" stroke-width="1"/>
<line x1="167.6" y1="621" x2="167.6" y2="624" stroke="#111" stroke-width="1"/>
<line x1="179.6" y1="621" x2="179.6" y2="624" stroke="#111" stroke-width="1"/>
<text x="64.9" y="566.3" font-size="8" fill="#1a1a1a" text-anchor="middle" textLength="71.5" lengthAdjust="spacingAndGlyphs" transform="rotate(-90 64.9 566.3)" stroke="#1a1a1a" stroke-width="0.3">Lipid mediator abundance</text>
<text x="110.05" y="631.8" font-size="6.9" text-anchor="end" textLength="57" lengthAdjust="spacingAndGlyphs" transform="rotate(-45 110.05 631.8)" stroke="#222" stroke-width="0.18">TG 16:1/18:1/18:2</text>
<text x="141.7" y="631.8" font-size="6.9" text-anchor="end" textLength="57" lengthAdjust="spacingAndGlyphs" transform="rotate(-45 141.7 631.8)" stroke="#222" stroke-width="0.18">TG 18:1/18:1/18:2</text>
<text x="173.3" y="631.8" font-size="6.9" text-anchor="end" textLength="57" lengthAdjust="spacingAndGlyphs" transform="rotate(-45 173.3 631.8)" stroke="#222" stroke-width="0.18">TG 18:1/18:2/18:2</text>
<text x="258.3" y="491.3" font-size="11.2" fill="#111" font-weight="bold" stroke="#111" stroke-width="0.18">F</text>
<text x="403.45" y="492" font-size="8.8" fill="#1a1a1a" text-anchor="middle" textLength="88.5" lengthAdjust="spacingAndGlyphs" stroke="#1a1a1a" stroke-width="0.18">Monocytes intracellular</text>
<text x="403.7" y="502.3" font-size="8.8" fill="#1a1a1a" text-anchor="middle" textLength="56.6" lengthAdjust="spacingAndGlyphs" stroke="#1a1a1a" stroke-width="0.18">free fatty acids</text>
<rect x="362" y="569" width="7.4" height="52" fill="#74b4a4"/>
<line x1="365.7" y1="574" x2="365.7" y2="564" stroke="#2d6e5e" stroke-width="0.9"/>
<line x1="363.9" y1="564" x2="367.5" y2="564" stroke="#2d6e5e" stroke-width="0.9"/>
<rect x="374" y="557.5" width="7.4" height="63.5" fill="#a991c0"/>
<line x1="377.7" y1="570.5" x2="377.7" y2="544.5" stroke="#7c6894" stroke-width="0.9"/>
<line x1="375.9" y1="544.5" x2="379.5" y2="544.5" stroke="#7c6894" stroke-width="0.9"/>
<circle cx="365.6" cy="558.2" r="2.9" fill="#f2fbfa" stroke="#357566" stroke-width="0.9"/>
<circle cx="364.6" cy="565.6" r="2.9" fill="#f2fbfa" stroke="#357566" stroke-width="0.9"/>
<circle cx="367.4" cy="564.4" r="2.9" fill="#f2fbfa" stroke="#357566" stroke-width="0.9"/>
<circle cx="366.8" cy="573.2" r="2.9" fill="#f2fbfa" stroke="#357566" stroke-width="0.9"/>
<circle cx="364.4" cy="576.5" r="2.9" fill="#f2fbfa" stroke="#357566" stroke-width="0.9"/>
<circle cx="377.7" cy="528.8" r="2.95" fill="#f4be2e" stroke="#a87410" stroke-width="0.85"/>
<circle cx="377.7" cy="544" r="2.95" fill="#f08c1e" stroke="#9a5512" stroke-width="0.85"/>
<circle cx="377.7" cy="571.6" r="2.95" fill="#f08c1e" stroke="#9a5512" stroke-width="0.85"/>
<circle cx="377.7" cy="582.9" r="2.95" fill="#c4123e" stroke="#850b2a" stroke-width="0.85"/>
<rect x="393.4" y="618" width="7.4" height="3" fill="#74b4a4"/>
<rect x="405.5" y="617.2" width="7.4" height="3.8" fill="#a991c0"/>
<circle cx="397.1" cy="617.3" r="2.9" fill="#f2fbfa" stroke="#357566" stroke-width="0.9"/>
<circle cx="396.2" cy="618.5" r="2.9" fill="#f2fbfa" stroke="#357566" stroke-width="0.9"/>
<circle cx="398.4" cy="618" r="2.9" fill="#f2fbfa" stroke="#357566" stroke-width="0.9"/>
<circle cx="409" cy="617.5" r="2.95" fill="#f08c1e" stroke="#9a5512" stroke-width="0.85"/>
<circle cx="407.6" cy="618.6" r="2.95" fill="#c4123e" stroke="#850b2a" stroke-width="0.85"/>
<circle cx="408.7" cy="615.9" r="2.95" fill="#f4be2e" stroke="#a87410" stroke-width="0.85"/>
<rect x="425.3" y="603" width="7.4" height="18" fill="#74b4a4"/>
<line x1="429" y1="605.5" x2="429" y2="600.5" stroke="#2d6e5e" stroke-width="0.9"/>
<line x1="427.2" y1="600.5" x2="430.8" y2="600.5" stroke="#2d6e5e" stroke-width="0.9"/>
<rect x="437.2" y="600.5" width="7.4" height="20.5" fill="#a991c0"/>
<line x1="440.9" y1="606.1" x2="440.9" y2="594.9" stroke="#7c6894" stroke-width="0.9"/>
<line x1="439.1" y1="594.9" x2="442.7" y2="594.9" stroke="#7c6894" stroke-width="0.9"/>
<circle cx="429.1" cy="597.8" r="2.9" fill="#f2fbfa" stroke="#357566" stroke-width="0.9"/>
<circle cx="430.6" cy="602.6" r="2.9" fill="#f2fbfa" stroke="#357566" stroke-width="0.9"/>
<circle cx="427.7" cy="605.5" r="2.9" fill="#f2fbfa" stroke="#357566" stroke-width="0.9"/>
<circle cx="441" cy="587.2" r="2.95" fill="#f4be2e" stroke="#a87410" stroke-width="0.85"/>
<circle cx="441.6" cy="600.7" r="2.95" fill="#f08c1e" stroke="#9a5512" stroke-width="0.85"/>
<circle cx="439.7" cy="604.5" r="2.95" fill="#c4123e" stroke="#850b2a" stroke-width="0.85"/>
<line x1="357.6" y1="508.2" x2="357.6" y2="621.5" stroke="#111" stroke-width="1.1"/>
<line x1="357.1" y1="620.9" x2="448.8" y2="620.9" stroke="#111" stroke-width="1.1"/>
<line x1="354.6" y1="621" x2="357.6" y2="621" stroke="#111" stroke-width="1"/>
<text x="350.6" y="623.2" font-size="6.4" text-anchor="end" stroke="#222" stroke-width="0.18">0</text>
<line x1="354.6" y1="599.05" x2="357.6" y2="599.05" stroke="#111" stroke-width="1"/>
<text x="350.6" y="601.25" font-size="6.4" text-anchor="end" textLength="22.62" lengthAdjust="spacingAndGlyphs" stroke="#222" stroke-width="0.18">200000</text>
<line x1="354.6" y1="577.1" x2="357.6" y2="577.1" stroke="#111" stroke-width="1"/>
<text x="350.6" y="579.3" font-size="6.4" text-anchor="end" textLength="22.62" lengthAdjust="spacingAndGlyphs" stroke="#222" stroke-width="0.18">400000</text>
<line x1="354.6" y1="555.15" x2="357.6" y2="555.15" stroke="#111" stroke-width="1"/>
<text x="350.6" y="557.35" font-size="6.4" text-anchor="end" textLength="22.62" lengthAdjust="spacingAndGlyphs" stroke="#222" stroke-width="0.18">600000</text>
<line x1="354.6" y1="533.2" x2="357.6" y2="533.2" stroke="#111" stroke-width="1"/>
<text x="350.6" y="535.4" font-size="6.4" text-anchor="end" textLength="22.62" lengthAdjust="spacingAndGlyphs" stroke="#222" stroke-width="0.18">800000</text>
<line x1="354.6" y1="511.25" x2="357.6" y2="511.25" stroke="#111" stroke-width="1"/>
<text x="350.6" y="513.45" font-size="6.4" text-anchor="end" textLength="26.39" lengthAdjust="spacingAndGlyphs" stroke="#222" stroke-width="0.18">1000000</text>
<line x1="356.2" y1="610.02" x2="357.6" y2="610.02" stroke="#111" stroke-width="0.9"/>
<line x1="356.2" y1="588.08" x2="357.6" y2="588.08" stroke="#111" stroke-width="0.9"/>
<line x1="356.2" y1="566.12" x2="357.6" y2="566.12" stroke="#111" stroke-width="0.9"/>
<line x1="356.2" y1="544.17" x2="357.6" y2="544.17" stroke="#111" stroke-width="0.9"/>
<line x1="356.2" y1="522.23" x2="357.6" y2="522.23" stroke="#111" stroke-width="0.9"/>
<line x1="365.7" y1="620.9" x2="365.7" y2="623.9" stroke="#111" stroke-width="1"/>
<line x1="377.7" y1="620.9" x2="377.7" y2="623.9" stroke="#111" stroke-width="1"/>
<line x1="397.1" y1="620.9" x2="397.1" y2="623.9" stroke="#111" stroke-width="1"/>
<line x1="409.2" y1="620.9" x2="409.2" y2="623.9" stroke="#111" stroke-width="1"/>
<line x1="429" y1="620.9" x2="429" y2="623.9" stroke="#111" stroke-width="1"/>
<line x1="440.9" y1="620.9" x2="440.9" y2="623.9" stroke="#111" stroke-width="1"/>
<text x="316.7" y="566.3" font-size="8" fill="#1a1a1a" text-anchor="middle" textLength="71.5" lengthAdjust="spacingAndGlyphs" transform="rotate(-90 316.7 566.3)" stroke="#1a1a1a" stroke-width="0.3">Lipid mediator abundance</text>
<text x="371.4" y="631.3" font-size="6.6" text-anchor="end" textLength="30.5" lengthAdjust="spacingAndGlyphs" transform="rotate(-45 371.4 631.3)" stroke="#222" stroke-width="0.18">Oleic Acid</text>
<text x="402.9" y="631.3" font-size="6.6" text-anchor="end" textLength="40.5" lengthAdjust="spacingAndGlyphs" transform="rotate(-45 402.9 631.3)" stroke="#222" stroke-width="0.18">Aurocolic Acid</text>
<text x="434.7" y="631.3" font-size="6.6" text-anchor="end" textLength="48" lengthAdjust="spacingAndGlyphs" transform="rotate(-45 434.7 631.3)" stroke="#222" stroke-width="0.18">Docosanoic Acid</text>
<circle cx="455.5" cy="525.2" r="2.7" fill="#f2fbfa" stroke="#6fa898" stroke-width="0.9"/>
<text x="461.8" y="527.6" font-size="6.9" textLength="10" lengthAdjust="spacingAndGlyphs" stroke="#222" stroke-width="0.18">HC</text>
<circle cx="455.5" cy="535.9" r="2.95" fill="#f08c1e" stroke="#9a5512" stroke-width="0.85"/>
<circle cx="455.5" cy="546.6" r="2.95" fill="#c4123e" stroke="#850b2a" stroke-width="0.85"/>
<circle cx="455.5" cy="557.4" r="2.95" fill="#f4be2e" stroke="#a87410" stroke-width="0.85"/>
<text x="461.8" y="538.2" font-size="6.9" textLength="15.4" lengthAdjust="spacingAndGlyphs" stroke="#222" stroke-width="0.18">CGD</text>
<text x="479.4" y="538.2" font-size="6" stroke="#222" stroke-width="0.18">-</text>
<text x="483.1" y="538.2" font-size="6.6" textLength="10.4" lengthAdjust="spacingAndGlyphs" stroke="#222" stroke-width="0.18">p47</text>
<text x="494" y="534.8" font-size="4.4" fill="#333" textLength="10" lengthAdjust="spacingAndGlyphs">phox</text>
<text x="461.8" y="548.9" font-size="6.9" textLength="15.4" lengthAdjust="spacingAndGlyphs" stroke="#222" stroke-width="0.18">CGD</text>
<text x="479.4" y="548.9" font-size="6" stroke="#222" stroke-width="0.18">-</text>
<text x="483.1" y="548.9" font-size="6.6" textLength="10.4" lengthAdjust="spacingAndGlyphs" stroke="#222" stroke-width="0.18">p67</text>
<text x="494" y="545.5" font-size="4.4" fill="#333" textLength="10" lengthAdjust="spacingAndGlyphs">phox</text>
<text x="461.8" y="559.6" font-size="6.9" textLength="15.4" lengthAdjust="spacingAndGlyphs" stroke="#222" stroke-width="0.18">CGD</text>
<text x="479.4" y="559.6" font-size="6" stroke="#222" stroke-width="0.18">-</text>
<text x="483.1" y="559.6" font-size="6.6" textLength="14.8" lengthAdjust="spacingAndGlyphs" stroke="#222" stroke-width="0.18">gp91</text>
<text x="498.4" y="556.2" font-size="4.4" fill="#333" textLength="10" lengthAdjust="spacingAndGlyphs">phox</text>
<rect x="0.5" y="0.5" width="519" height="678" fill="none" stroke="#e4e4e4" stroke-width="1"/>
</svg>
</body></html>
